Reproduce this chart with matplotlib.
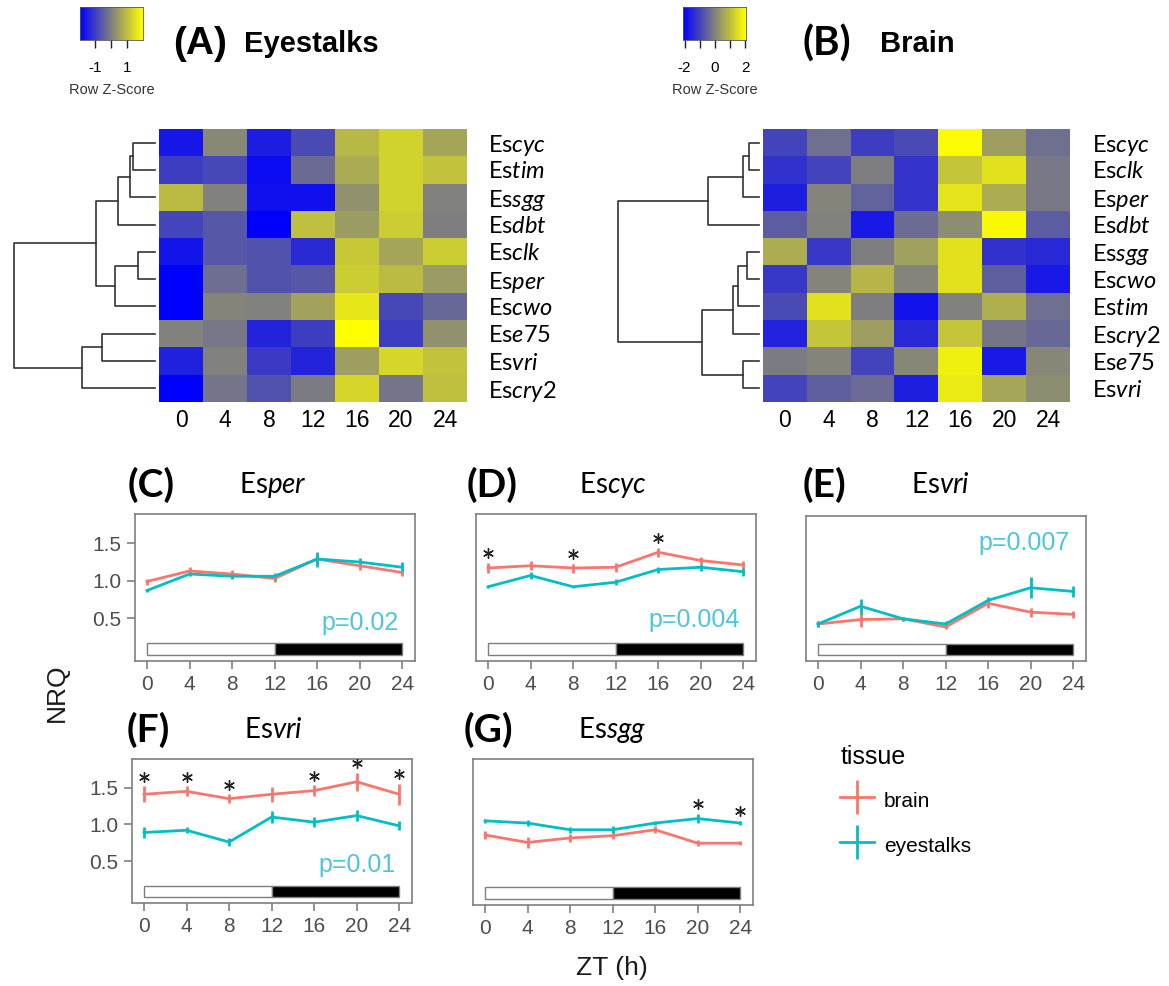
import re
import numpy as np
import matplotlib
matplotlib.use('Agg')
import matplotlib.pyplot as plt
from matplotlib.colors import LinearSegmentedColormap
from matplotlib.patches import Rectangle
from matplotlib.container import ErrorbarContainer
from matplotlib.legend_handler import HandlerErrorbar

plt.rcParams['font.family'] = ['Liberation Sans', 'DejaVu Sans']
plt.rcParams['mathtext.fontset'] = 'custom'
plt.rcParams['mathtext.rm'] = 'Lato'
plt.rcParams['mathtext.it'] = 'Lato:italic'

# ---------------- data ----------------
zt = [0, 4, 8, 12, 16, 20, 24]

# heatmaps (row z-scores), rows in dendrogram order
genes_A = ['cyc', 'tim', 'sgg', 'dbt', 'clk', 'per', 'cwo', 'e75', 'vri', 'cry2']
z_A = [
    [-1.60, 0.15, -1.50, -0.80, 0.90, 1.30, 0.60],
    [-1.00, -0.85, -1.75, -0.30, 0.70, 1.30, 1.05],
    [0.95, 0.05, -1.70, -1.70, 0.30, 1.30, 0.05],
    [-0.90, -0.60, -1.95, 1.00, 0.45, 1.20, 0.00],
    [-1.65, -0.60, -0.70, -1.30, 1.15, 0.60, 1.20],
    [-1.95, -0.25, -0.70, -0.60, 1.20, 0.95, 0.45],
    [-1.95, 0.10, 0.05, 0.55, 1.60, -0.85, -0.35],
    [0.05, -0.10, -1.40, -1.00, 2.00, -1.00, 0.30],
    [-1.45, 0.05, -1.05, -1.40, 0.50, 1.35, 1.05],
    [-1.95, -0.15, -0.70, -0.05, 1.35, -0.15, 1.00],
]
# merges: (child a, child b, height); new cluster ids start at 10
merges_A = [(0, 1, 1.1), (10, 2, 1.25), (11, 3, 1.85), (4, 5, 0.85), (13, 6, 2.0),
            (12, 14, 2.95), (7, 8, 2.65), (16, 9, 3.65), (15, 17, 7.05)]

genes_B = ['cyc', 'clk', 'per', 'dbt', 'sgg', 'cwo', 'tim', 'cry2', 'e75', 'vri']
z_B = [
    [-1.00, -0.30, -1.10, -0.90, 2.00, 0.45, -0.30],
    [-1.30, -1.00, -0.05, -1.25, 1.10, 1.55, -0.15],
    [-1.60, 0.05, -0.50, -1.25, 1.60, 0.70, -0.15],
    [-0.60, 0.00, -1.70, -0.35, 0.20, 1.95, -0.60],
    [0.70, -1.20, -0.05, 0.50, 1.55, -1.30, -1.45],
    [-1.20, 0.05, 0.85, 0.05, 1.55, -0.55, -1.70],
    [-0.90, 1.55, -0.05, -1.80, 0.00, 0.75, -0.30],
    [-1.55, 1.10, 0.45, -1.45, 1.10, -0.20, -0.40],
    [-0.10, 0.05, -1.00, 0.10, 1.80, -1.70, 0.10],
    [-1.00, -0.55, -0.35, -1.60, 1.70, 0.60, 0.20],
]
merges_B = [(0, 1, 0.5), (10, 2, 0.8), (11, 3, 2.55), (4, 5, 0.6), (13, 6, 1.05),
            (14, 7, 1.3), (8, 9, 0.8), (15, 16, 2.85), (12, 17, 7.05)]

# NRQ time courses: mean and error, brain / eyestalks
C_brain = [0.99, 1.13, 1.09, 1.03, 1.29, 1.20, 1.11]
C_brain_err = [0.04, 0.05, 0.05, 0.04, 0.06, 0.06, 0.04]
C_eye = [0.87, 1.09, 1.06, 1.06, 1.29, 1.25, 1.18]
C_eye_err = [0.02, 0.03, 0.03, 0.05, 0.10, 0.05, 0.07]

D_brain = [1.17, 1.20, 1.17, 1.18, 1.38, 1.27, 1.21]
D_brain_err = [0.07, 0.06, 0.06, 0.06, 0.06, 0.05, 0.05]
D_eye = [0.92, 1.07, 0.92, 0.98, 1.15, 1.18, 1.12]
D_eye_err = [0.01, 0.05, 0.01, 0.04, 0.04, 0.05, 0.05]

E_brain = [0.43, 0.49, 0.50, 0.39, 0.71, 0.59, 0.56]
E_brain_err = [0.04, 0.10, 0.03, 0.03, 0.06, 0.06, 0.05]
E_eye = [0.43, 0.67, 0.50, 0.43, 0.75, 0.92, 0.87]
E_eye_err = [0.04, 0.10, 0.03, 0.04, 0.05, 0.14, 0.08]

F_brain = [1.41, 1.45, 1.35, 1.41, 1.46, 1.58, 1.41]
F_brain_err = [0.11, 0.07, 0.06, 0.10, 0.07, 0.12, 0.14]
F_eye = [0.89, 0.92, 0.76, 1.10, 1.03, 1.12, 0.98]
F_eye_err = [0.07, 0.04, 0.05, 0.08, 0.07, 0.08, 0.06]

G_brain = [0.87, 0.77, 0.83, 0.86, 0.94, 0.76, 0.76]
G_brain_err = [0.05, 0.07, 0.05, 0.05, 0.05, 0.04, 0.03]
G_eye = [1.06, 1.03, 0.94, 0.94, 1.03, 1.09, 1.03]
G_eye_err = [0.03, 0.04, 0.04, 0.05, 0.03, 0.06, 0.03]

stars_D = [0, 8, 16]
stars_F = [0, 4, 8, 16, 20, 24]
stars_G = [20, 24]

p_C, p_D, p_E, p_F = 'p=0.02', 'p=0.004', 'p=0.007', 'p=0.01'

# ---------------- figure ----------------
W, H = 1169, 986
fig = plt.figure(figsize=(W / 100, H / 100), dpi=100)


def px_axes(x0, y0, x1, y1):
    return fig.add_axes([x0 / W, 1 - y1 / H, (x1 - x0) / W, (y1 - y0) / H])


cmap = LinearSegmentedColormap.from_list('byg', ['#0000FF', '#808080', '#FFFF00'])
BRAIN = '#F8766D'
EYE = '#00BFC4'
PCOL = '#4DC6D6'
GREY = '#7F7F7F'


def gene_label(g):
    m = re.match(r'([a-z]+)(\d*)', g)
    return r'Es$\it{' + m.group(1) + '}$' + m.group(2)


def draw_dendro(ax, merges, n):
    pos = {i: i + 0.5 for i in range(n)}
    hgt = {i: 0.0 for i in range(n)}
    for k, (a, b, h) in enumerate(merges):
        ax.plot([hgt[a], h, h, hgt[b]], [pos[a], pos[a], pos[b], pos[b]],
                color='#333333', lw=1.2, clip_on=False)
        pos[n + k] = (pos[a] + pos[b]) / 2
        hgt[n + k] = h
    ax.set_xlim(merges[-1][2], 0)
    ax.set_ylim(n, 0)
    ax.axis('off')


def draw_heatmap(hx, dx, z, genes, merges, vmin, vmax, pad):
    ax = px_axes(hx[0], 129, hx[1], 402)
    ax.imshow(np.array(z), cmap=cmap, vmin=vmin, vmax=vmax, aspect='auto',
              interpolation='nearest')
    ax.set_xticks(range(len(zt)))
    ax.set_xticklabels([str(t) for t in zt], fontsize=16.5)
    ax.set_yticks(range(len(genes)))
    ax.set_yticklabels([gene_label(g) for g in genes], fontsize=17, family='Lato')
    ax.yaxis.tick_right()
    ax.tick_params(axis='both', length=0)
    ax.tick_params(axis='x', pad=5)
    ax.tick_params(axis='y', pad=pad)
    for s in ax.spines.values():
        s.set_visible(False)
    axd = px_axes(dx[0], 129, dx[1], 402)
    draw_dendro(axd, merges, len(genes))


def draw_key(x0, x1, vmin, vmax, ticks, labels):
    ax = px_axes(x0, 7, x1, 40)
    grad = np.linspace(vmin, vmax, 256)[None, :]
    ax.imshow(grad, cmap=cmap, vmin=vmin, vmax=vmax, aspect='auto',
              extent=(vmin, vmax, 0, 1))
    ax.set_yticks([])
    ax.set_xticks(ticks)
    ax.set_xticklabels(labels, fontsize=11)
    ax.tick_params(axis='x', length=6, width=1, pad=9, color='#222222')
    ax.set_xlabel('Row Z-Score', fontsize=10.5, color='#333333', labelpad=6)
    for s in ax.spines.values():
        s.set_linewidth(0.6)
        s.set_color('#555555')


# heatmaps
draw_heatmap((159, 467), (14, 155), z_A, genes_A, merges_A, -1.95, 2.0, 15)
draw_heatmap((763, 1070), (618, 759), z_B, genes_B, merges_B, -2.1, 2.05, 16)
draw_key(80, 143, -1.95, 2.0, [-1, 0, 1], ['-1', '', '1'])
draw_key(683, 746, -2.1, 2.05, [-2, -1, 0, 1, 2], ['-2', '', '0', '', '2'])

fig.text(173 / W, 1 - 44 / H, '(A)', fontsize=28, weight='bold', va='center')
fig.text(244 / W, 1 - 44 / H, 'Eyestalks', fontsize=21, weight='bold', va='center')
fig.text(802 / W, 1 - 44 / H, '(B)', fontsize=29, weight='bold', va='center', family='Lato')
fig.text(880 / W, 1 - 44 / H, 'Brain', fontsize=21, weight='bold', va='center')


def draw_panel(box, brain, brain_err, eye, eye_err, stars, ptxt, py, show_y):
    ax = px_axes(*box)
    b = ax.errorbar(zt, brain, yerr=brain_err, color=BRAIN, lw=2, elinewidth=2,
                    capsize=0)
    e = ax.errorbar(zt, eye, yerr=eye_err, color=EYE, lw=2, elinewidth=2,
                    capsize=0)
    ax.add_patch(Rectangle((0, 0.01), 12, 0.155, facecolor='white',
                           edgecolor=GREY, lw=1))
    ax.add_patch(Rectangle((12, 0.01), 12, 0.155, facecolor='black',
                           edgecolor=GREY, lw=1))
    if stars:
        top = np.maximum(np.array(brain) + np.array(brain_err),
                         np.array(eye) + np.array(eye_err))
        sy = [top[zt.index(s)] + 0.13 for s in stars]
        ax.scatter(stars, sy, marker=(6, 2, 0), s=50, color='#222222',
                   linewidths=1, zorder=5)
    if ptxt:
        ax.text(23.7, py, ptxt, color=PCOL, fontsize=18, ha='right', va='center')
    ax.set_xlim(-1.13, 25.2)
    ax.set_ylim(-0.07, 1.89)
    ax.set_xticks(zt)
    ax.set_xticklabels([str(t) for t in zt])
    ax.tick_params(axis='both', color=GREY, width=1.2, length=6, pad=4,
                   labelsize=15, labelcolor='#4D4D4D')
    if show_y:
        ax.set_yticks([0.5, 1.0, 1.5])
        ax.set_yticklabels(['0.5', '1.0', '1.5'])
    else:
        ax.set_yticks([])
    for s in ax.spines.values():
        s.set_color(GREY)
        s.set_linewidth(1.2)
    return b, e


def panel_title(xl, xc, y, letter, gene):
    fig.text(xl / W, 1 - y / H, letter, fontsize=28, weight='bold', va='center',
             family='Lato')
    fig.text(xc / W, 1 - y / H, gene_label(gene), fontsize=20, va='center',
             ha='center', family='Lato')


draw_panel((135, 514, 415, 661), C_brain, C_brain_err, C_eye, C_eye_err, [], p_C, 0.44, True)
draw_panel((476, 514, 756, 661), D_brain, D_brain_err, D_eye, D_eye_err, stars_D, p_D, 0.48, False)
draw_panel((806, 516, 1086, 661), E_brain, E_brain_err, E_eye, E_eye_err, [], p_E, 1.52, False)
draw_panel((132, 759, 412, 903), F_brain, F_brain_err, F_eye, F_eye_err, stars_F, p_F, 0.45, True)
hb, he = draw_panel((473, 759, 753, 905), G_brain, G_brain_err, G_eye, G_eye_err, stars_G, None, 0, False)

panel_title(128, 273, 485, '(C)', 'per')
panel_title(467, 613, 485, '(D)', 'cyc')
panel_title(803, 940, 485, '(E)', 'vri')
panel_title(127, 273, 730, '(F)', 'vri')
panel_title(464, 612, 730, '(G)', 'sgg')

fig.text(57 / W, 1 - 693 / H, 'NRQ', fontsize=19, rotation=90, va='center', ha='center',
         color='#1A1A1A')
fig.text(612 / W, 1 - 968 / H, 'ZT (h)', fontsize=19, va='center', ha='center',
         color='#1A1A1A')

leg = fig.legend([hb, he], ['brain', 'eyestalks'], title='tissue', loc='upper left',
                 bbox_to_anchor=(830 / W, 1 - 735 / H), frameon=False, fontsize=15,
                 title_fontsize=18, alignment='left', borderpad=0, handlelength=1.6,
                 handleheight=1.6, handletextpad=0.5, labelspacing=0.85,
                 handler_map={ErrorbarContainer: HandlerErrorbar(yerr_size=0.82)})

fig.savefig('out.png', dpi=100)
